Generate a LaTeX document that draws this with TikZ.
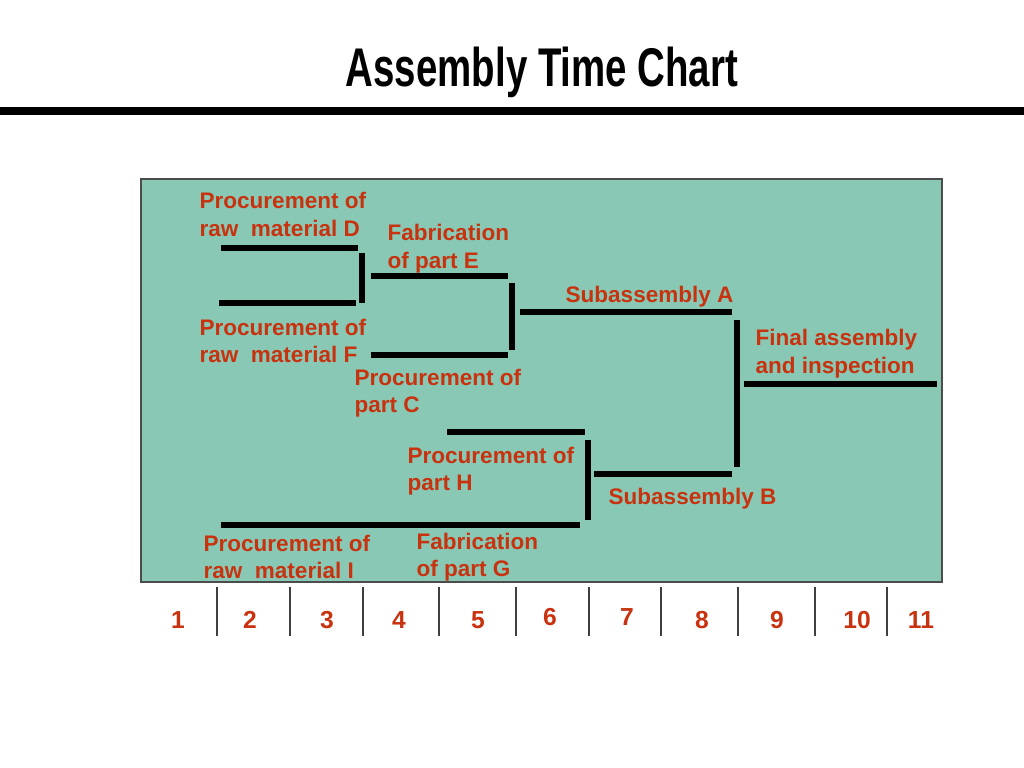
\documentclass[tikz,border=0pt]{standalone}
\usepackage{fontspec}
\setmainfont{Liberation Sans}
\usepackage{tikz}
\definecolor{chartbg}{RGB}{136,200,180}
\definecolor{labelred}{RGB}{200,50,15}
\tikzset{
  bar/.style={line width=1.5pt},
  lbl/.style={anchor=north west, align=left, inner sep=0pt, text=labelred,
    font=\fontsize{6.4}{7.9}\selectfont\bfseries},
  num/.style={text=labelred, font=\fontsize{7}{8}\selectfont\bfseries},
}
\begin{document}
\begin{tikzpicture}[x=0.01cm, y=-0.01cm]
\useasboundingbox (0,0) rectangle (1024,768);
\node(title)[xscale=0.705, font=\fontsize{15.5}{16}\selectfont\bfseries] at (542,72) {Assembly Time Chart};
\fill (0,107) rectangle (1024,115);
\draw[fill=chartbg, draw=black!70, thin] (141,179) rectangle (942,582);

% bars
\draw[bar] (221,248) -- (358,248);
\draw[bar] (219,303) -- (356,303);
\draw[bar] (362,253) -- (362,303);
\draw[bar] (371,276) -- (508,276);
\draw[bar] (371,355) -- (508,355);
\draw[bar] (512,283) -- (512,350);
\draw[bar] (520,312) -- (732,312);
\draw[bar] (447,432) -- (585,432);
\draw[bar] (221,525) -- (580,525);
\draw[bar] (588,440) -- (588,520);
\draw[bar] (594,474) -- (732,474);
\draw[bar] (737,320) -- (737,467);
\draw[bar] (744,384) -- (937,384);

% labels
\node(matD)[lbl] at (199,192) {Procurement of\\raw\ \ material D};
\node(partE)[lbl] at (387,224) {Fabrication\\of part E};
\node(subA)[lbl] at (565,286) {Subassembly A};
\node(matF)[lbl] at (199,318) {Procurement of\\raw\ \ material F};
\node(final)[lbl] at (755,329) {Final assembly\\and inspection};
\node(partC)[lbl] at (354,368) {Procurement of\\part C};
\node(partH)[lbl] at (407,446) {Procurement of\\part H};
\node(subB)[lbl] at (608,487) {Subassembly B};
\node(matI)[lbl] at (203,534) {Procurement of\\raw\ \ material I};
\node(partG)[lbl] at (416,532) {Fabrication\\of part G};

% time axis
\foreach \x in {217,290,363,439,516,589,661,738,815,887}
  \draw[black!75, semithick] (\x,587) -- (\x,636);
\foreach \n/\x/\y in {1/178/620,2/250/620,3/327/620,4/399/620,5/478/620,6/550/617,7/627/617,8/702/620,9/777/620,10/857/620,11/921/620}
  \node(t\n)[num] at (\x,\y) {\n};
\end{tikzpicture}
\end{document}
